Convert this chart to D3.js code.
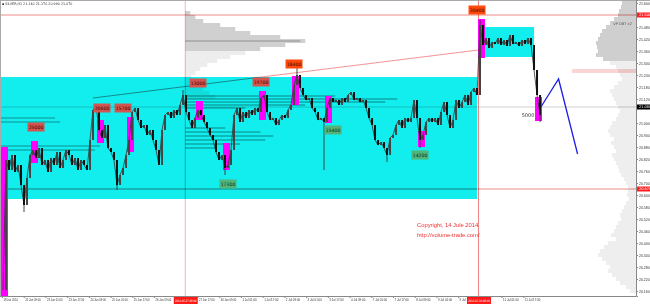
<!DOCTYPE html>
<html>
<head>
<meta charset="utf-8">
<script src="https://cdn.jsdelivr.net/npm/d3@7"></script>
<style>
    html, body { margin: 0; padding: 0; background: #fff; }
    svg { display: block; font-family: "DejaVu Sans", sans-serif; }
</style>
</head>
<body>
<div class="panel"></div>
<script>

// Data

const symbolInfo = "\u25AA SILVER,H1  21.140 21.170 20.990 21.070";

// one close every ~2.2 H1 bars
const sampleStart = 0.74;
const sampleStep = 2.21;
const closes = [
    20.165, 20.815, 20.765, 20.840, 20.755, 20.790, 20.690, 20.590, 20.725, 20.840,
    20.865, 20.825, 20.875, 20.790, 20.815, 20.755, 20.825, 20.790, 20.855, 20.775,
    20.815, 20.865, 20.840, 20.790, 20.825, 20.765, 20.815, 20.790, 20.765, 20.915,
    21.065, 21.090, 20.965, 20.925, 20.990, 20.875, 20.855, 20.815, 20.690, 20.740,
    20.775, 20.840, 20.915, 21.055, 21.075, 21.015, 20.975, 20.990, 20.940, 20.965,
    20.915, 20.865, 20.790, 20.965, 21.040, 21.055, 21.025, 21.065, 21.040, 21.090,
    21.140, 21.055, 21.015, 20.975, 21.025, 21.065, 21.040, 21.005, 20.975, 20.940,
    20.915, 20.855, 20.815, 20.840, 20.775, 20.790, 20.865, 21.040, 21.075, 21.005,
    21.055, 21.025, 21.065, 21.040, 21.075, 21.055, 21.125, 21.140, 21.055, 21.015,
    21.025, 20.990, 21.015, 21.040, 21.025, 21.065, 21.090, 21.190, 21.240, 21.175,
    21.140, 21.115, 21.125, 21.075, 21.055, 21.015, 21.025, 21.005, 21.075, 21.125,
    21.105, 21.115, 21.090, 21.125, 21.105, 21.140, 21.155, 21.115, 21.125, 21.105,
    21.115, 21.075, 21.025, 20.990, 20.915, 20.890, 20.905, 20.875, 20.840, 20.925,
    20.940, 20.990, 21.015, 20.975, 21.025, 21.005, 21.025, 21.115, 21.025, 20.915,
    20.940, 21.005, 21.025, 21.005, 21.025, 20.990, 21.055, 21.105, 21.040, 20.975,
    21.015, 21.115, 21.075, 21.105, 21.140, 21.090, 21.155, 21.175, 21.140, 21.490,
    21.390, 21.425, 21.375, 21.405, 21.395, 21.425, 21.390, 21.415, 21.385, 21.440,
    21.395, 21.405, 21.385, 21.415, 21.395, 21.425, 21.390, 21.265, 21.140, 21.040
];

// long shadows: sample index and extreme price
const wickIdx   = [7, 38, 60, 74, 98, 107, 128, 139, 159, 179];
const wickPrice = [20.555, 20.665, 21.165, 20.740, 21.275, 20.765, 20.805, 20.875, 21.515, 21.005];

const priceTicks = [
    21.600, 21.540, 21.480, 21.420, 21.360, 21.300, 21.240, 21.180, 21.120, 21.060,
    21.000, 20.940, 20.880, 20.820, 20.760, 20.700, 20.640, 20.580, 20.520, 20.460,
    20.400, 20.340, 20.280, 20.220, 20.160
];

// one label every 16 H1 bars
const timeLabels = [
    "18 Jun 2014", "20 Jun 09:00", "23 Jun 01:00", "23 Jun 17:00", "24 Jun 09:00",
    "25 Jun 01:00", "25 Jun 17:00", "26 Jun 09:00", "27 Jun 01:00", "27 Jun 17:00",
    "30 Jun 09:00", "1 Jul 01:00", "1 Jul 17:00", "2 Jul 09:00", "3 Jul 01:00",
    "3 Jul 17:00", "4 Jul 09:00", "7 Jul 01:00", "7 Jul 17:00", "8 Jul 09:00",
    "9 Jul 01:00", "9 Jul 17:00", "10 Jul 09:00", "11 Jul 01:00", "11 Jul 17:00"
];

// vertical lines (H1 bar number) and their time stamps
const vLineBars = [135, 351];
const vLineText = ["2014.06.27 08:00", "2014.07.10 08:00"];

const redLines = [21.540, 20.670];
const lastPrice = 21.080;
const zoneLines = [21.265, 21.255];
const zoneLineFrom = 420;

const trendBars = [67, 351];
const trendPrices = [21.125, 21.365];

const forecastBars = [397, 410, 424];
const forecastPrices = [21.080, 21.220, 20.845];

// rectangles in sample index units
const cyanZones = [
    { from: -1, to: 158, top: 21.230, bottom: 20.620 },
    { from: 160, to: 177, top: 21.480, bottom: 21.330 }
];

const volumeBars = [
    { from: 0, to: 1, high: 20.880, low: 20.135 },
    { from: 10, to: 11, high: 20.910, low: 20.800 },
    { from: 32, to: 33, high: 21.015, low: 20.900 },
    { from: 42, to: 43, high: 21.030, low: 20.855 },
    { from: 65, to: 66, high: 21.110, low: 21.015 },
    { from: 74, to: 75, high: 20.900, low: 20.765 },
    { from: 86, to: 87, high: 21.160, low: 21.015 },
    { from: 97, to: 98, high: 21.235, low: 21.090 },
    { from: 108, to: 109, high: 21.135, low: 21.000 },
    { from: 139, to: 140, high: 20.960, low: 20.880 },
    { from: 159, to: 160, high: 21.520, low: 21.325 },
    { from: 178, to: 179, high: 21.130, low: 21.010 }
];

const sellLabels = [
    { text: "25000", i: 11, price: 20.980 },
    { text: "20600", i: 33, price: 21.075 },
    { text: "15700", i: 40, price: 21.075 },
    { text: "13000", i: 65, price: 21.200 },
    { text: "19700", i: 86, price: 21.205 }
];
const climaxLabels = [
    { text: "18400", i: 97, price: 21.295 },
    { text: "30400", i: 158, price: 21.565 }
];
const buyLabels = [
    { text: "17300", i: 75, price: 20.695 },
    { text: "15400", i: 110, price: 20.965 },
    { text: "14200", i: 139, price: 20.840 }
];
const lastVolume = { text: "5000", i: 175, price: 21.040 };

// volume profiles
const profileStep = 0.02;
const upperProfileTop = 21.550;
const upperProfileVol = [5, 10, 18, 35, 50, 65, 95, 120, 100, 75, 60, 45, 32, 22, 15, 10, 6, 8, 12, 18, 24, 30];

const rightProfileTop = 21.600;
const rightProfileVol = [
    14, 15, 17, 18, 22, 26, 30, 34, 36, 38, 40, 39, 38, 40, 33, 26, 20, 18, 16, 14,
    18, 22, 26, 24, 22, 20, 18, 16, 18, 20, 24, 26, 28, 26, 22, 25, 22, 20, 24, 22,
    20, 18, 17, 15, 12, 10, 8, 8, 9, 7, 10, 12, 14, 16, 15, 18, 20, 22, 25, 20,
    28, 32, 36, 38, 34, 30, 26, 28, 24, 20, 16, 10, 6
];

const midProfile = [
    { price: 21.135, vol: 150 }, { price: 21.120, vol: 212 }, { price: 21.105, vol: 200 },
    { price: 21.090, vol: 120 }, { price: 21.075, vol: 60 }, { price: 20.975, vol: 40 },
    { price: 20.955, vol: 75 }, { price: 20.935, vol: 88 }, { price: 20.915, vol: 80 },
    { price: 20.895, vol: 55 }, { price: 20.875, vol: 30 }
];
const leftProfile = [
    { price: 21.025, vol: 55 }, { price: 21.005, vol: 60 },
    { price: 20.885, vol: 100 }, { price: 20.865, vol: 95 }
];

const copyright = ["Copyright, 14 Jule 2014", "http://volume-trade.com/"];

// Render chart

drawChart();

function drawChart() {

    const params = {
        width: 650,
        height: 305,
        right: 636,
        bottom: 296
    };

    const svg = d3.select(".panel").append("svg")
        .attr("width", params.width)
        .attr("height", params.height)
        .attr("viewBox", [0, 0, params.width, params.height]);

    const x = d3.scaleLinear().domain([0, 384]).range([2, 523.28]);
    const y = d3.scaleLinear().domain([20.135, 21.615]).range([params.bottom, 0]);
    const vol = d3.scaleLinear().domain([0, 100]).range([0, 100]);
    const xs = i => x(sampleStart + i * sampleStep);

    const multiply = sel => sel.style("mix-blend-mode", "multiply");

    svg.append("rect")
        .attr("width", params.width)
        .attr("height", params.height)
        .attr("fill", "#fff");

    // zones
    svg.selectAll(".zone")
        .data(cyanZones)
        .enter().append("rect")
        .attr("x", d => xs(d.from))
        .attr("y", d => y(d.top))
        .attr("width", d => xs(d.to) - xs(d.from))
        .attr("height", d => y(d.bottom) - y(d.top))
        .attr("fill", "#12eeee");

    // profiles
    const upperX = x(vLineBars[0]);
    svg.append("g").call(multiply)
        .selectAll("rect")
        .data(upperProfileVol)
        .enter().append("rect")
        .attr("x", upperX)
        .attr("y", (d, k) => y(upperProfileTop - k * profileStep + profileStep / 2))
        .attr("width", d => vol(d))
        .attr("height", y(0) - y(profileStep))
        .attr("fill", (d, k) => upperProfileTop - k * profileStep >= 21.37 ? "#d0d0d0" : "#ededed");

    const poc = upperProfileVol.indexOf(d3.max(upperProfileVol));
    svg.append("line").call(multiply)
        .attr("x1", upperX).attr("x2", upperX + vol(d3.max(upperProfileVol)) - 5)
        .attr("y1", y(upperProfileTop - poc * profileStep))
        .attr("y2", y(upperProfileTop - poc * profileStep))
        .attr("stroke", "#999").attr("stroke-width", 0.8);

    svg.append("g").call(multiply)
        .selectAll("rect")
        .data(rightProfileVol)
        .enter().append("rect")
        .attr("x", d => params.right - vol(d))
        .attr("y", (d, k) => y(rightProfileTop - k * profileStep + profileStep / 2))
        .attr("width", d => vol(d))
        .attr("height", y(0) - y(profileStep))
        .attr("fill", (d, k) => rightProfileTop - k * profileStep >= 21.32 ? "#cfcfcf" : "#eeeeee");

    svg.append("text")
        .attr("x", 632).attr("y", y(21.495) + 1.2)
        .attr("text-anchor", "end")
        .attr("font-size", 3.6)
        .attr("fill", "#555")
        .text("VP DBT x2");

    svg.append("g").call(multiply)
        .selectAll("rect")
        .data(midProfile)
        .enter().append("rect")
        .attr("x", upperX)
        .attr("y", d => y(d.price) - 1)
        .attr("width", d => vol(d.vol))
        .attr("height", 2)
        .attr("fill", "#c6c6c6");

    svg.append("g").call(multiply)
        .selectAll("rect")
        .data(leftProfile)
        .enter().append("rect")
        .attr("x", xs(-1))
        .attr("y", d => y(d.price) - 1)
        .attr("width", d => vol(d.vol))
        .attr("height", 2)
        .attr("fill", "#cdcdcd");

    // lines
    svg.selectAll(".hline")
        .data(redLines)
        .enter().append("line").call(multiply)
        .attr("x1", 0).attr("x2", params.right)
        .attr("y1", d => y(d)).attr("y2", d => y(d))
        .attr("stroke", "#f08a8a").attr("stroke-width", 1);

    svg.append("line").call(multiply)
        .attr("x1", 0).attr("x2", params.right)
        .attr("y1", y(lastPrice)).attr("y2", y(lastPrice))
        .attr("stroke", "#c4c4c4").attr("stroke-width", 0.8);

    svg.selectAll(".zline")
        .data(zoneLines)
        .enter().append("line").call(multiply)
        .attr("x1", x(zoneLineFrom)).attr("x2", params.right)
        .attr("y1", d => y(d)).attr("y2", d => y(d))
        .attr("stroke", "#f07070").attr("stroke-width", 0.6);

    svg.selectAll(".vline")
        .data(vLineBars)
        .enter().append("line").call(multiply)
        .attr("x1", d => x(d)).attr("x2", d => x(d))
        .attr("y1", 0).attr("y2", params.bottom)
        .attr("stroke", (d, i) => i === 0 ? "#f6b4b4" : "#f08080")
        .attr("stroke-width", 1);

    // volume highlights
    svg.selectAll(".vbar")
        .data(volumeBars)
        .enter().append("rect")
        .attr("x", d => xs(d.from) - 2)
        .attr("y", d => y(d.high))
        .attr("width", d => xs(d.to) - xs(d.from) + 4)
        .attr("height", d => y(d.low) - y(d.high))
        .attr("fill", "#ff00ff");

    // trend line
    svg.append("line").call(multiply)
        .attr("x1", x(trendBars[0])).attr("y1", y(trendPrices[0]))
        .attr("x2", x(trendBars[1])).attr("y2", y(trendPrices[1]))
        .attr("stroke", "#f07878").attr("stroke-width", 0.8);

    // candles
    const candles = svg.append("g");

    candles.append("path")
        .datum(closes)
        .attr("fill", "none")
        .attr("stroke", "#333")
        .attr("stroke-width", 0.8)
        .attr("d", d3.line().x((d, i) => xs(i)).y(d => y(d)));

    candles.selectAll(".wick")
        .data(wickIdx)
        .enter().append("line")
        .attr("x1", d => xs(d)).attr("x2", d => xs(d))
        .attr("y1", d => y(closes[d]))
        .attr("y2", (d, k) => y(wickPrice[k]))
        .attr("stroke", "#333").attr("stroke-width", 0.9);

    candles.selectAll(".body")
        .data(closes.slice(1))
        .enter().append("rect")
        .attr("x", (d, i) => xs(i + 1) - 1)
        .attr("y", (d, i) => y(Math.max(d, closes[i])))
        .attr("width", 2)
        .attr("height", (d, i) => Math.max(1, Math.abs(y(d) - y(closes[i]))))
        .attr("fill", (d, i) => d >= closes[i] ? "#444" : "#111");

    // forecast
    svg.append("path")
        .datum(forecastBars)
        .attr("fill", "none")
        .attr("stroke", "#1f1fe8")
        .attr("stroke-width", 1.3)
        .attr("d", d3.line().x(d => x(d)).y((d, i) => y(forecastPrices[i])));

    // volume labels
    function addLabels(data, fill, color) {
        const g = svg.append("g")
            .selectAll("g")
            .data(data)
            .enter().append("g")
            .attr("transform", d => `translate(${xs(d.i)},${y(d.price)})`);
        g.append("rect")
            .attr("x", -8.5).attr("y", -4.5)
            .attr("width", 17).attr("height", 9)
            .attr("fill", fill);
        g.append("text")
            .attr("text-anchor", "middle")
            .attr("y", 1.7)
            .attr("font-size", 4.6)
            .attr("fill", color)
            .text(d => d.text);
    }

    addLabels(sellLabels, "#d2564f", "#3d0000");
    addLabels(climaxLabels, "#ff4a0a", "#3d0000");
    addLabels(buyLabels, "#52b47a", "#03331a");

    svg.append("text")
        .attr("x", xs(lastVolume.i)).attr("y", y(lastVolume.price) + 1.8)
        .attr("text-anchor", "middle")
        .attr("font-size", 5)
        .attr("fill", "#333")
        .text(lastVolume.text);

    // copyright
    svg.selectAll(".copy")
        .data(copyright)
        .enter().append("text")
        .attr("x", 417)
        .attr("y", (d, i) => 227 + i * 9.5)
        .attr("font-family", "'Liberation Sans', Arial, sans-serif")
        .attr("font-size", 5.8)
        .attr("fill", "#f03030")
        .text(d => d);

    // frame
    svg.append("line")
        .attr("x1", 0).attr("x2", params.width)
        .attr("y1", 0.5).attr("y2", 0.5)
        .attr("stroke", "#aaa");
    svg.append("line")
        .attr("x1", 0.5).attr("x2", 0.5)
        .attr("y1", 0).attr("y2", params.bottom)
        .attr("stroke", "#aaa");

    svg.append("text")
        .attr("x", 2).attr("y", 5)
        .attr("font-size", 3.3)
        .attr("fill", "#333")
        .text(symbolInfo);

    // axes: labels hidden behind the time stamps and price tags are left out
    const shownTimes = timeLabels
        .map((d, i) => i * 16)
        .filter(b => vLineBars.every(v => b < v - 12 || b > v + 8));

    const xAxis = svg.append("g")
        .attr("transform", `translate(0,${params.bottom})`)
        .call(d3.axisBottom(x)
            .tickValues(shownTimes)
            .tickFormat(b => timeLabels[b / 16])
            .tickSize(2));
    xAxis.select(".domain").remove();
    xAxis.selectAll("line").attr("stroke", "#888");
    xAxis.selectAll("text")
        .attr("text-anchor", "start")
        .attr("x", 1)
        .attr("y", 3)
        .attr("font-size", 3.2)
        .attr("fill", "#333")
        .attr("textLength", function() { return this.textContent.length * 1.3; })
        .attr("lengthAdjust", "spacingAndGlyphs");

    svg.append("line")
        .attr("x1", 0).attr("x2", params.right)
        .attr("y1", params.bottom + 0.5).attr("y2", params.bottom + 0.5)
        .attr("stroke", "#888");

    const tagPrices = redLines.concat([lastPrice]);
    const shownPrices = priceTicks
        .filter(p => tagPrices.every(t => Math.abs(y(p) - y(t)) > 5));

    const yAxis = svg.append("g")
        .attr("transform", `translate(${params.right},0)`)
        .call(d3.axisRight(y)
            .tickValues(shownPrices)
            .tickFormat(d3.format(".3f"))
            .tickSize(2));
    yAxis.select(".domain").attr("stroke", "#888");
    yAxis.selectAll("line").attr("stroke", "#888");
    yAxis.selectAll("text")
        .attr("x", 3)
        .attr("font-size", 3.5)
        .attr("fill", "#333");

    // price tags on the axis
    const tags = redLines.map(p => ({ p, fill: "#ff2020", color: "#fff" }))
        .concat([{ p: lastPrice, fill: "#000", color: "#fff" }]);

    const tag = svg.append("g")
        .selectAll("g")
        .data(tags)
        .enter().append("g")
        .attr("transform", d => `translate(${params.right + 1},${y(d.p)})`);
    tag.append("rect")
        .attr("x", 0).attr("y", -2.5)
        .attr("width", 13).attr("height", 5)
        .attr("fill", d => d.fill);
    tag.append("text")
        .attr("x", 2).attr("y", 1.2)
        .attr("font-size", 3.5)
        .attr("fill", d => d.color)
        .text(d => d3.format(".3f")(d.p));

    // time stamps of vertical lines
    const stamp = svg.append("g")
        .selectAll("g")
        .data(vLineBars)
        .enter().append("g")
        .attr("transform", d => `translate(${x(d)},${params.bottom + 1})`);
    stamp.append("rect")
        .attr("x", -11.5).attr("y", 0)
        .attr("width", 24).attr("height", 7)
        .attr("fill", "#ff1a1a");
    stamp.append("text")
        .attr("text-anchor", "middle")
        .attr("x", 0.5)
        .attr("y", 4.6)
        .attr("font-size", 3.2)
        .attr("fill", "#fff")
        .attr("textLength", 21.5)
        .attr("lengthAdjust", "spacingAndGlyphs")
        .text((d, i) => vLineText[i]);
}

</script>
</body>
</html>
